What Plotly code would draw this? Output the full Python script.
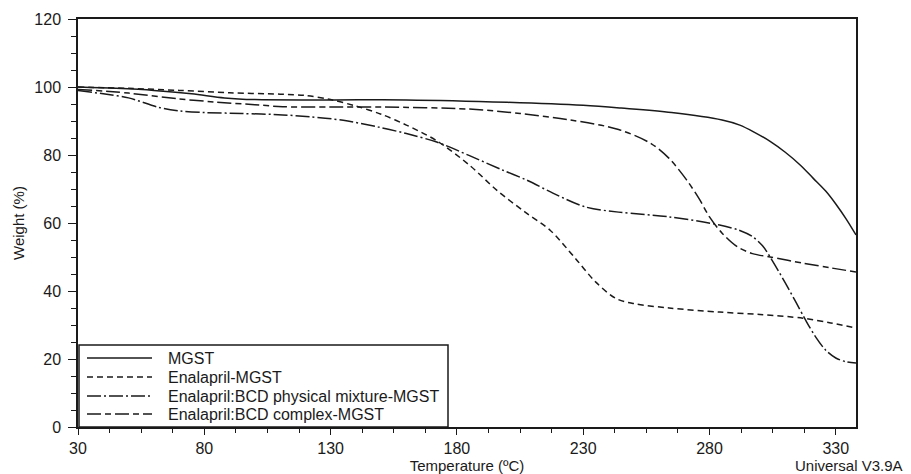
import plotly.graph_objects as go

# ---- data ----
mgst_T = [30, 45, 60, 75, 88, 100, 130, 160, 200, 230, 245, 265, 285, 292, 298, 304, 310, 316, 321, 326, 330, 334, 338]
mgst_W = [100, 99.6, 99, 98, 96.8, 96.3, 96.2, 96.2, 95.5, 94.6, 93.8, 92.5, 90.3, 88.8, 86.6, 84.0, 80.8, 77.0, 73.2, 69.4, 65.6, 61.3, 56.5]

ena_T = [30, 50, 70, 90, 110, 120, 130, 140, 150, 160, 172, 185, 196, 207, 217, 227, 235, 243, 250, 264, 284, 300, 317, 328, 338]
ena_W = [100, 99.6, 99, 98.3, 97.9, 97.5, 96.3, 94.4, 92.0, 88.8, 84.2, 77.0, 69.5, 63.2, 57.8, 49.5, 42.6, 37.8, 36.3, 35, 33.8, 33.1, 32, 30.6, 29.1]

phys_T = [30, 40, 50, 62, 70, 80, 95, 111, 122, 135, 149, 160, 172, 185, 198, 208, 218, 231, 244, 264, 284, 292, 297, 301, 304, 310, 314, 318, 322, 326, 330, 334, 338]
phys_W = [99, 98, 96.8, 94, 93, 92.5, 92.2, 91.8, 91.2, 90.2, 88.2, 86.3, 83.8, 79.8, 75.6, 72.5, 68.8, 64.7, 63.2, 61.8, 59.4, 57.8, 56, 53.3, 50, 42.4, 37, 31.5, 26.5, 22.6, 20.3, 19.2, 18.8]

cplx_T = [30, 50, 70, 84, 100, 111, 130, 150, 185, 205, 225, 244, 257, 264, 271, 276, 280, 285, 291, 297, 304, 317, 328, 338]
cplx_W = [99.3, 98.2, 96.5, 95.6, 94.8, 94.2, 94.1, 94.1, 93.5, 92.2, 90.3, 87.5, 83.3, 79, 72.6, 67, 61.8, 57, 53, 51, 50, 48.2, 46.8, 45.6]

names = ["MGST", "Enalapril-MGST", "Enalapril:BCD physical mixture-MGST", "Enalapril:BCD complex-MGST"]
x_ticks = [30, 80, 130, 180, 230, 280, 330]
y_ticks = [0, 20, 40, 60, 80, 100, 120]

dashes = ["solid", "6px,4px", "14px,3px,2px,3px", "14px,4px,6px,4px"]
series = [(mgst_T, mgst_W), (ena_T, ena_W), (phys_T, phys_W), (cplx_T, cplx_W)]

FONT = "Liberation Sans, Arial, sans-serif"
ink = "#1a1a1a"

fig = go.Figure()
for (t, w), dash, nm in zip(series, dashes, names):
    fig.add_trace(go.Scatter(x=t, y=w, mode="lines", name=nm, showlegend=False,
                             line=dict(color=ink, width=1.5, dash=dash, shape="spline", smoothing=0.9)))

axis_common = dict(showline=True, linecolor=ink, linewidth=1.5, mirror=True,
                   ticks="outside", tickcolor=ink, tickwidth=1.2,
                   showgrid=False, zeroline=False,
                   tickfont=dict(family=FONT, size=16, color=ink))

fig.update_xaxes(range=[30, 338], tickvals=x_ticks, ticktext=[str(v) for v in x_ticks], ticklen=6,
                 minor=dict(ticks="outside", ticklen=4, tickcolor=ink, dtick=12.5, tick0=30, tickwidth=1),
                 title=dict(text="Temperature (ºC)", font=dict(family=FONT, size=15, color=ink), standoff=2),
                 automargin=False, **axis_common)
fig.update_yaxes(range=[0, 120], tickvals=y_ticks, ticktext=[str(v) for v in y_ticks], ticklen=8,
                 ticklabelstandoff=4,
                 minor=dict(ticks="outside", ticklen=5, tickcolor=ink, dtick=5, tick0=0, tickwidth=1),
                 title=dict(text="Weight (%)", font=dict(family=FONT, size=15, color=ink), standoff=6),
                 automargin=False, **axis_common)

fig.add_annotation(text="Universal V3.9A", xref="paper", yref="paper", x=1, y=0,
                   xanchor="right", yanchor="top", xshift=49, yshift=-28, showarrow=False,
                   font=dict(family=FONT, size=15, color=ink))

# ---- hand-drawn legend box (bottom-left, inside plot) ----
W_PLOT, H_PLOT = 778.0, 408.0
def px(xp):
    return (xp - 78) / W_PLOT
def py(yp):
    return (427 - yp) / H_PLOT

fig.add_shape(type="rect", xref="paper", yref="paper",
              x0=px(79), x1=px(448), y0=0, y1=py(345),
              line=dict(color=ink, width=1.5), fillcolor="white", layer="above")
rows = [358, 377, 396, 414]
for nm, dash, ry in zip(names, dashes, rows):
    fig.add_shape(type="line", xref="paper", yref="paper",
                  x0=px(87), x1=px(152), y0=py(ry), y1=py(ry),
                  line=dict(color=ink, width=1.5, dash=dash), layer="above")
    fig.add_annotation(text=nm, xref="paper", yref="paper", x=px(166), y=py(ry),
                       xanchor="left", yanchor="middle", showarrow=False,
                       font=dict(family=FONT, size=16, color=ink))

fig.update_layout(
    width=911, height=474,
    margin=dict(l=78, r=55, t=19, b=47),
    paper_bgcolor="white", plot_bgcolor="white",
    font=dict(family=FONT, color=ink),
    showlegend=False,
)

fig.write_html("out.html", config={"displayModeBar": False},
               post_script="document.body.style.margin='0';document.body.style.padding='0';")
